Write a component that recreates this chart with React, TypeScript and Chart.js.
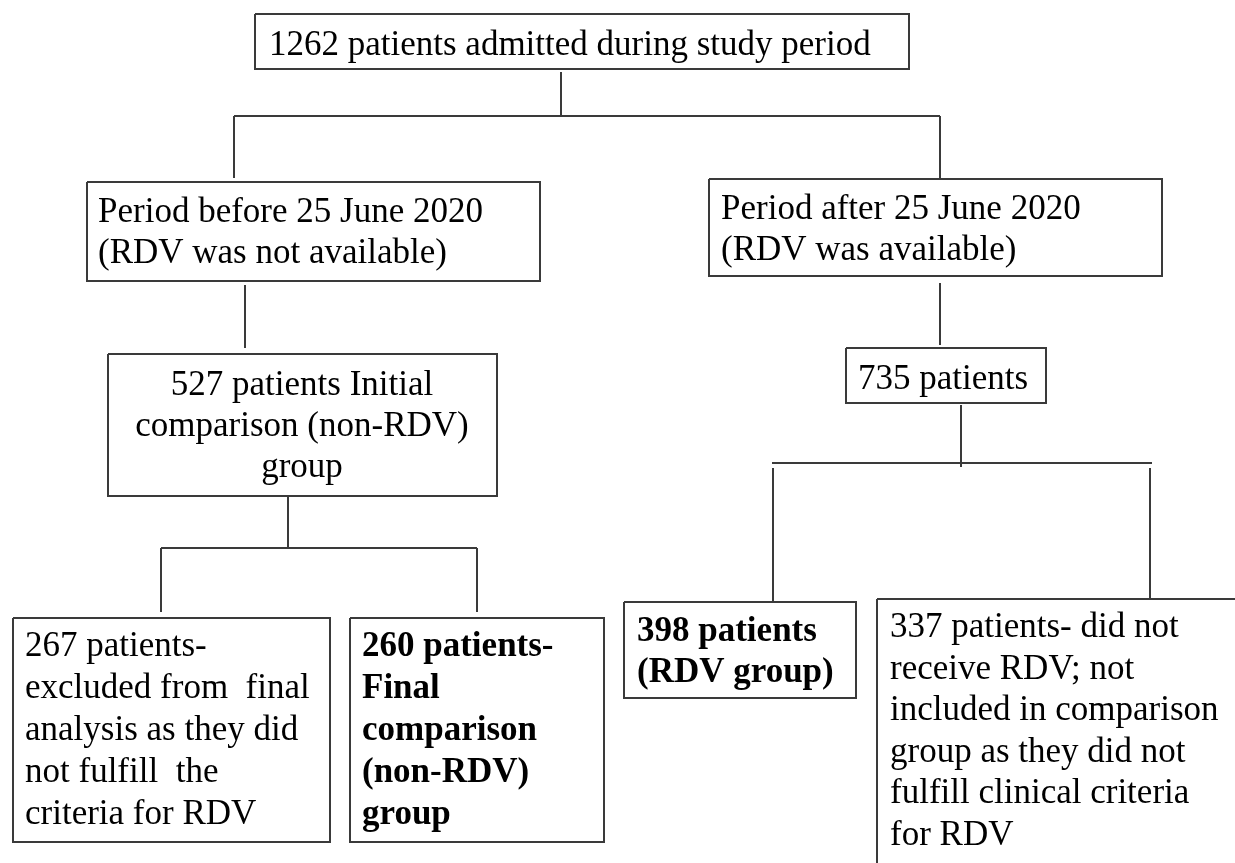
import React, { useEffect, useRef } from "react";
import { Chart, registerables } from "chart.js";

Chart.register(...registerables);

// Box geometry (in page pixel coordinates of the flow diagram)
const boxIds = ["admitted", "before", "after", "initial", "p735", "excluded", "final", "rdv", "notRdv"];
const boxLeft = [255, 87, 709, 108, 846, 13, 350, 624, 877];
const boxRight = [909, 540, 1162, 497, 1046, 330, 604, 856, 1245];
const boxTop = [14, 182, 179, 354, 348, 618, 618, 602, 599];
const boxBottom = [69, 281, 276, 496, 403, 842, 842, 698, 880];

// Box texts
const boxLines: string[][] = [
  ["1262 patients admitted during study period"],
  ["Period before 25 June 2020", "(RDV was not available)"],
  ["Period after 25 June 2020", "(RDV was available)"],
  ["527 patients Initial", "comparison (non-RDV)", "group"],
  ["735 patients"],
  ["267 patients-", "excluded from  final", "analysis as they did", "not fulfill  the", "criteria for RDV"],
  ["260 patients-", "Final", "comparison", "(non-RDV)", "group"],
  ["398 patients", "(RDV group)"],
  ["337 patients- did not", "receive RDV; not", "included in comparison", "group as they did not", "fulfill clinical criteria", "for RDV"],
];
const textX = [269, 98, 721, 302, 858, 25, 362, 637, 890];
const textBaseline1 = [55, 222, 219, 395, 389, 656, 656, 641, 637];
const textLineGap = [42, 41, 41, 41, 42, 42, 42, 41, 41.6];
const textAlign: ("left" | "center")[] = ["left", "left", "left", "center", "left", "left", "left", "left", "left"];
const textBold = [false, false, false, false, false, false, true, true, false];

// Connector segments
const segX1 = [561, 234, 234, 940, 245, 940, 288, 161, 161, 477, 961, 772, 773, 1150];
const segY1 = [72, 116, 116, 116, 285, 283, 496, 548, 548, 548, 405, 463, 468, 468];
const segX2 = [561, 940, 234, 940, 245, 940, 288, 477, 161, 477, 961, 1152, 773, 1150];
const segY2 = [116, 116, 178, 178, 348, 345, 548, 548, 612, 612, 467, 463, 601, 599];

const LINE_COLOR = "#3a3a3a";

export default function App() {
  const canvasRef = useRef<HTMLCanvasElement | null>(null);

  useEffect(() => {
    document.body.style.margin = "0";
    const canvas = canvasRef.current;
    if (!canvas) return;

    const boxDatasets = boxIds.map((id, i) => ({
      label: id,
      data: [
        { x: boxLeft[i], y: boxTop[i] },
        { x: boxRight[i], y: boxTop[i] },
        { x: boxRight[i], y: boxBottom[i] },
        { x: boxLeft[i], y: boxBottom[i] },
        { x: boxLeft[i], y: boxTop[i] },
      ],
      showLine: true,
      pointRadius: 0,
      borderColor: LINE_COLOR,
      borderWidth: 2,
      fill: false,
      tension: 0,
      clip: false as any,
    }));

    const segDatasets = segX1.map((_, i) => ({
      label: "seg" + i,
      data: [
        { x: segX1[i], y: segY1[i] },
        { x: segX2[i], y: segY2[i] },
      ],
      showLine: true,
      pointRadius: 0,
      borderColor: LINE_COLOR,
      borderWidth: 2,
      fill: false,
      tension: 0,
      clip: false as any,
    }));

    const textPlugin = {
      id: "boxText",
      afterDatasetsDraw(chart: any) {
        const ctx = chart.ctx;
        const xs = chart.scales.x;
        const ys = chart.scales.y;
        ctx.save();
        ctx.fillStyle = "#000";
        ctx.textBaseline = "alphabetic";
        boxLines.forEach((lines, i) => {
          ctx.font = (textBold[i] ? "bold " : "") + "35px 'Liberation Serif', 'Times New Roman', serif";
          ctx.textAlign = textAlign[i];
          lines.forEach((line, j) => {
            const px = xs.getPixelForValue(textX[i]);
            const py = ys.getPixelForValue(textBaseline1[i] + j * textLineGap[i]);
            ctx.fillText(line, px, py);
          });
        });
        ctx.restore();
      },
    };

    const chart = new Chart(canvas, {
      type: "scatter",
      data: { datasets: [...boxDatasets, ...segDatasets] as any },
      options: {
        animation: false,
        responsive: true,
        maintainAspectRatio: false,
        events: [],
        layout: { padding: 0 },
        plugins: {
          legend: { display: false },
          tooltip: { enabled: false },
        },
        scales: {
          x: { type: "linear", min: 0, max: 1235, display: false },
          y: { type: "linear", min: 0, max: 863, reverse: true, display: false },
        },
      },
      plugins: [textPlugin],
    });

    return () => chart.destroy();
  }, []);

  return (
    <div style={{ width: 1235, height: 863, position: "relative", background: "#fff" }}>
      <canvas ref={canvasRef} />
    </div>
  );
}
